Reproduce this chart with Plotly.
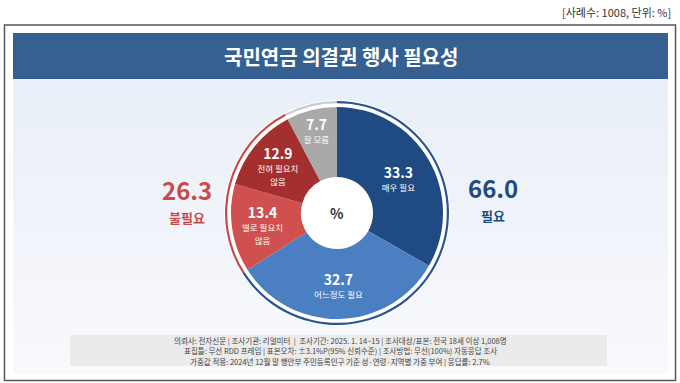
import plotly.graph_objects as go

# ---- data ----
categories = ["매우 필요", "어느정도 필요", "별로 필요치<br>않음", "전혀 필요치<br>않음", "잘 모름"]
values = [33.3, 32.7, 13.4, 12.9, 7.7]
group_labels = ["필요", "불필요", "잘 모름"]
group_values = [66.0, 26.3, 7.7]
title_text = "국민연금 의결권 행사 필요성"
sample_note = "[사례수: 1008, 단위: %]"
footer_lines = [
    "의뢰사: 전자신문 | 조사기관: 리얼미터  |  조사기간: 2025. 1. 14~15 | 조사대상/표본: 전국 18세 이상 1,008명",
    "표집틀: 무선 RDD 프레임 | 표본오차: ±3.1%P(95% 신뢰수준) | 조사방법: 무선(100%) 자동응답 조사",
    "가중값 적용: 2024년 12월 말 행안부 주민등록인구 기준 성·연령·지역별 가중 부여 | 응답률: 2.7%",
]

W, H = 680, 383
FONT = "Noto Sans CJK KR"
slice_colors = ["#1f4a82", "#4a7fc2", "#d04f4f", "#a42f2f", "#a9a9a9"]
ring_colors = ["#2a5590", "#c84a4a", "#c9ccd2"]

def px_x(x):
    return x / W

def px_y(y):
    return 1 - y / H

cx, cy, R = 337, 213, 106
Rr = 112

slice_text = [
    f"<span style='font-size:14px'><b>{v}</b></span><br><span style='font-size:8.5px'>{c.replace('<br>', '</span><br><span style=\"font-size:8.5px\">')}</span>"
    for v, c in zip(values, categories)
]

fig = go.Figure()

# outer thin ring
fig.add_trace(go.Pie(
    values=group_values, labels=group_labels, sort=False, direction="clockwise", rotation=0,
    hole=(Rr - 2.2) / Rr, marker=dict(colors=ring_colors, line=dict(width=0)),
    textinfo="none", hoverinfo="skip", showlegend=False,
    domain=dict(x=[px_x(cx - Rr), px_x(cx + Rr)], y=[px_y(cy + Rr), px_y(cy - Rr)]),
))

# main donut
fig.add_trace(go.Pie(
    values=values, labels=categories, sort=False, direction="clockwise", rotation=0,
    hole=0.34, marker=dict(colors=slice_colors, line=dict(width=0)),
    text=slice_text, textinfo="text", textposition="inside",
    insidetextorientation="horizontal",
    textfont=dict(family=FONT, size=10, color="white"),
    showlegend=False,
    domain=dict(x=[px_x(cx - R), px_x(cx + R)], y=[px_y(cy + R), px_y(cy - R)]),
))

shapes = []
# panel background bands (light blue to near white)
top, bot = 79, 373
n = 12
c0 = (233, 239, 248)
c1 = (248, 249, 252)
for i in range(n):
    t = i / (n - 1)
    col = tuple(round(a + (b - a) * t) for a, b in zip(c0, c1))
    y0 = top + (bot - top) * i / n
    y1 = top + (bot - top) * (i + 1) / n
    shapes.append(dict(type="rect", xref="paper", yref="paper",
                       x0=px_x(13), x1=px_x(668), y0=px_y(y1 + 0.5), y1=px_y(y0),
                       fillcolor="rgb(%d,%d,%d)" % col, line=dict(width=0), layer="below"))
# outer frame
shapes.append(dict(type="rect", xref="paper", yref="paper",
                   x0=px_x(4.5), x1=px_x(675.5), y0=px_y(380.5), y1=px_y(25),
                   line=dict(color="#555555", width=1.5), fillcolor="rgba(0,0,0,0)", layer="below"))
# title banner
shapes.append(dict(type="rect", xref="paper", yref="paper",
                   x0=px_x(13), x1=px_x(668), y0=px_y(79), y1=px_y(33),
                   fillcolor="#365f92", line=dict(width=0), layer="below"))
# footer box
shapes.append(dict(type="rect", xref="paper", yref="paper",
                   x0=px_x(70), x1=px_x(607), y0=px_y(366), y1=px_y(335),
                   fillcolor="#ebebeb", line=dict(width=0), layer="below"))
# white circle behind ring
shapes.append(dict(type="circle", xref="paper", yref="paper",
                   x0=px_x(cx - Rr - 1), x1=px_x(cx + Rr + 1), y0=px_y(cy + Rr + 1), y1=px_y(cy - Rr - 1),
                   fillcolor="white", line=dict(width=0), layer="below"))

annotations = [
    dict(text=sample_note, x=px_x(673), y=px_y(12), xanchor="right", yanchor="middle",
         font=dict(family=FONT, size=11, color="#333333")),
    dict(text=f"<b>{title_text}</b>", x=px_x(341), y=px_y(56), xanchor="center", yanchor="middle",
         font=dict(family=FONT, size=20, color="white")),
    dict(text="<b>%</b>", x=px_x(cx), y=px_y(cy), xanchor="center", yanchor="middle",
         font=dict(family=FONT, size=14, color="#333333")),
    dict(text=f"<b>{group_values[1]}</b>", x=px_x(187), y=px_y(189), xanchor="center", yanchor="middle",
         font=dict(family=FONT, size=24, color="#c94a4a")),
    dict(text=f"<b>{group_labels[1]}</b>", x=px_x(187), y=px_y(217), xanchor="center", yanchor="middle",
         font=dict(family=FONT, size=13, color="#c94a4a")),
    dict(text=f"<b>{group_values[0]:.1f}</b>", x=px_x(493), y=px_y(187), xanchor="center", yanchor="middle",
         font=dict(family=FONT, size=24, color="#1f4a82")),
    dict(text=f"<b>{group_labels[0]}</b>", x=px_x(493), y=px_y(215), xanchor="center", yanchor="middle",
         font=dict(family=FONT, size=13, color="#1f4a82")),
]
for i, line in enumerate(footer_lines):
    annotations.append(dict(text=line, x=px_x(340), y=px_y(340 + i * 10.5), xanchor="center", yanchor="middle",
                            font=dict(family=FONT, size=7.5, color="#444444")))
for a in annotations:
    a.update(xref="paper", yref="paper", showarrow=False)

fig.update_layout(
    width=W, height=H, margin=dict(l=0, r=0, t=0, b=0),
    paper_bgcolor="white", plot_bgcolor="white",
    shapes=shapes, annotations=annotations,
    font=dict(family=FONT),
)

fig.write_html("out.html", config={"displayModeBar": False},
               post_script="document.body.style.margin='0';")
